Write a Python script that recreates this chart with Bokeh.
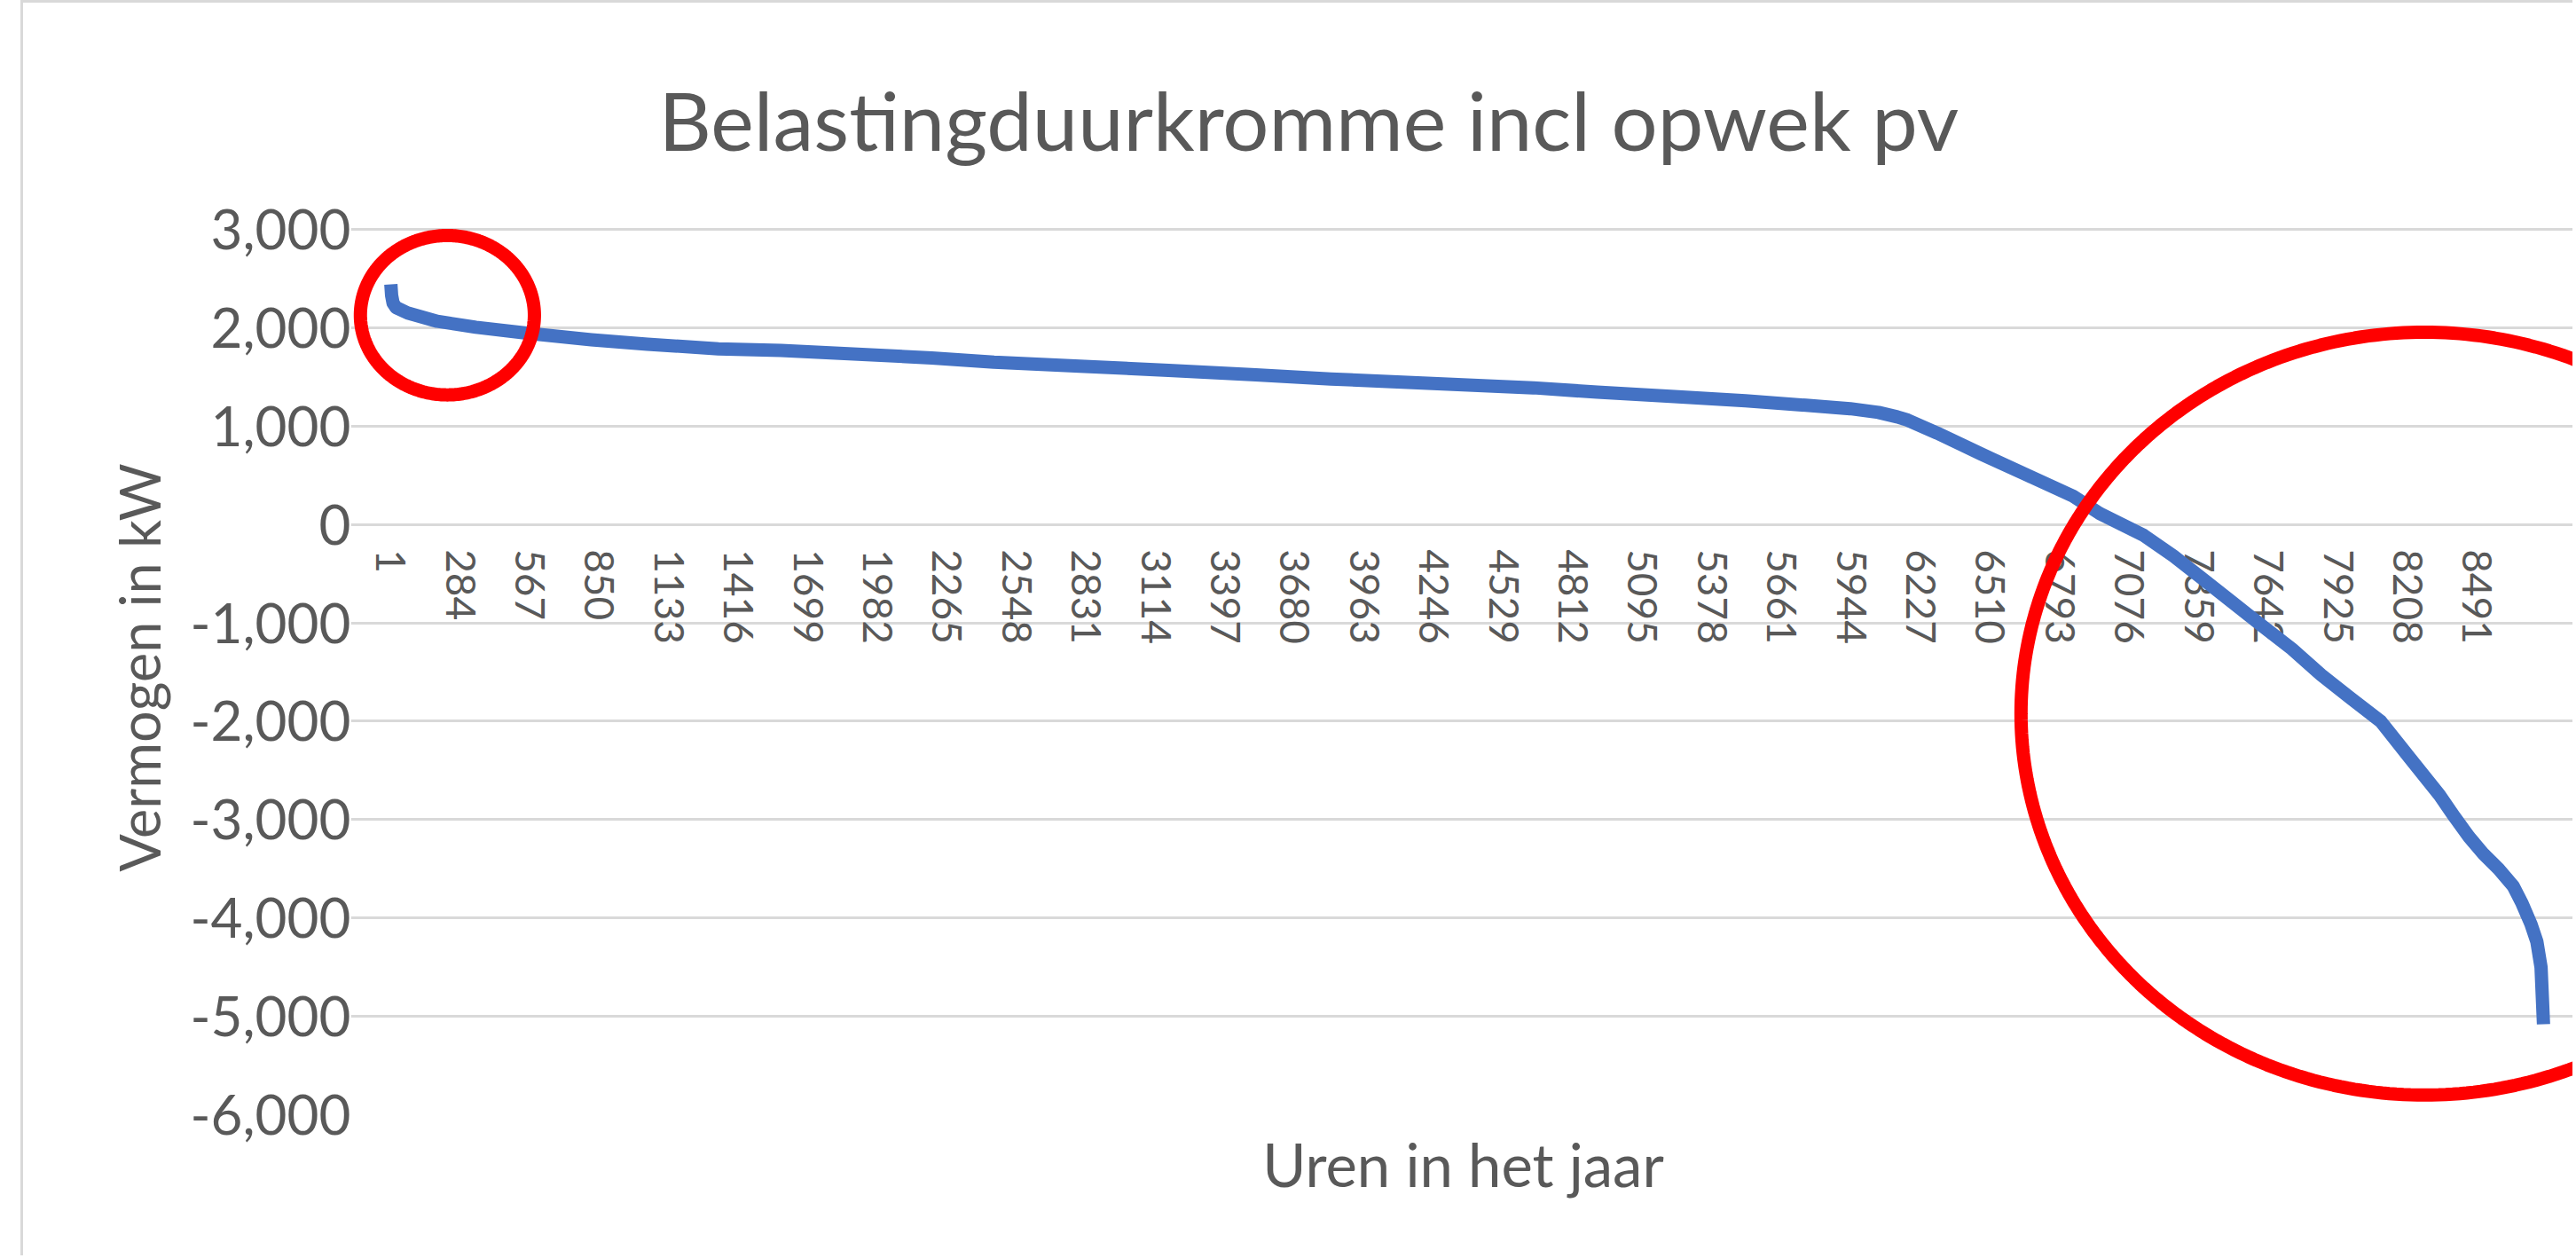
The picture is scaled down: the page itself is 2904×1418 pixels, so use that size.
import numpy as np
from bokeh.plotting import figure
from bokeh.models import (Range1d, FixedTicker, NumeralTickFormatter, Title,
                          PolyAnnotation, InlineStyleSheet)
from bokeh.embed import file_html
from bokeh.resources import INLINE

# ---------------- data ----------------
hours = [1, 4, 10, 22, 69, 190, 347, 553, 817, 1045, 1334, 1588, 2202, 2455,
         2804, 3166, 3520, 3826, 4240, 4650, 4910, 5224, 5513, 5758, 5939,
         6054, 6130, 6173, 6292, 6473, 6653, 6846, 6954, 7134, 7254, 7375,
         7495, 7615, 7736, 7856, 7976, 8097, 8217, 8337, 8397, 8457, 8517,
         8577, 8637, 8673, 8709, 8733, 8750, 8760]
load_kw = [2440, 2330, 2250, 2205, 2150, 2065, 2005, 1945, 1878, 1832, 1785,
           1770, 1693, 1649, 1610, 1566, 1522, 1478, 1434, 1389, 1345, 1301,
           1257, 1212, 1177, 1139, 1094, 1061, 930, 715, 509, 288, 112, -112,
           -320, -556, -793, -1030, -1265, -1531, -1767, -2000, -2377, -2751,
           -2969, -3176, -3353, -3500, -3676, -3853, -4062, -4240, -4500, -5080]

x_tick_hours = [1, 284, 567, 850, 1133, 1416, 1699, 1982, 2265, 2548, 2831,
                3114, 3397, 3680, 3963, 4246, 4529, 4812, 5095, 5378, 5661,
                5944, 6227, 6510, 6793, 7076, 7359, 7642, 7925, 8208, 8491]
y_ticks = [-6000, -5000, -4000, -3000, -2000, -1000, 0, 1000, 2000, 3000]

title_text = "Belastingduurkromme incl opwek pv"
x_title = "Uren in het jaar"
y_title = "Vermogen in kW"

# red highlight rings: (centre hour, centre kW, half width hours, half height kW)
small_ring = (231, 2127, 354, 810)
big_ring = (8276, -1923, 1642, 3877)

# ---------------- layout (page pixels; the page body has no margin) ----------------
N_HOURS = 8760
SHIFT_X, SHIFT_Y = 23, 0                # css shift of the plot element
BORDER = 3
CANVAS_X0, CANVAS_Y0 = SHIFT_X + BORDER, SHIFT_Y + BORDER
W, H = 2877, 1415
DATA_L, DATA_R = 440, 2867              # pixel span of hours 0.5 .. 8760.5
FRAME_L, FRAME_R = 395, CANVAS_X0 + W   # frame a bit wider so rings are not clipped
FRAME_T, FRAME_B = 248, 1256            # y = 3000 at 258, y = -6000 at 1256
Y_TOP_PX = 258

hpp = N_HOURS / (DATA_R - DATA_L)       # hours per pixel
kpp = 9000 / (FRAME_B - Y_TOP_PX)       # kW per pixel
x_start = 0.5 - (DATA_L - FRAME_L) * hpp
x_end = 0.5 + (FRAME_R - DATA_L) * hpp
y_end = 3000 + (Y_TOP_PX - FRAME_T) * kpp

FONT = "Lato"
GREY_TXT = "#595959"
GRID = "#d9d9d9"

p = figure(width=W, height=H, output_backend="svg", toolbar_location=None,
           title=None,
           x_range=Range1d(x_start, x_end), y_range=Range1d(-6000, y_end),
           min_border_left=FRAME_L - CANVAS_X0, min_border_right=CANVAS_X0 + W - FRAME_R,
           min_border_top=FRAME_T - CANVAS_Y0,
           min_border_bottom=CANVAS_Y0 + H - FRAME_B)
p.stylesheets = [InlineStyleSheet(css=(
    ":host { transform: translate(%dpx, %dpx); "
    "border-left: %dpx solid #d9d9d9; border-top: %dpx solid #d9d9d9; }"
    % (SHIFT_X, SHIFT_Y, BORDER, BORDER)))]
p.outline_line_color = None
p.background_fill_color = "white"
p.border_fill_color = "white"

p.add_layout(Title(text=title_text, align="left", offset=347, standoff=118,
                   text_font=FONT, text_font_size="92px", text_font_style="normal",
                   text_color=GREY_TXT), "above")
p.add_layout(Title(text=x_title, align="center", standoff=26,
                   text_font=FONT, text_font_size="67px", text_font_style="normal",
                   text_color=GREY_TXT), "below")

# y axis
p.yaxis.ticker = FixedTicker(ticks=y_ticks)
p.yaxis.formatter = NumeralTickFormatter(format="0,0")
p.yaxis.axis_label = y_title
p.yaxis.axis_label_text_font = FONT
p.yaxis.axis_label_text_font_size = "63px"
p.yaxis.axis_label_text_font_style = "normal"
p.yaxis.axis_label_text_color = GREY_TXT
p.yaxis.axis_label_standoff = 18
p.yaxis.major_label_text_font = FONT
p.yaxis.major_label_text_font_size = "62px"
p.yaxis.major_label_text_color = GREY_TXT
p.yaxis.major_label_standoff = 0
p.yaxis.major_tick_out = 0
p.yaxis.major_tick_in = 0
p.yaxis.axis_line_color = None
p.yaxis.major_tick_line_color = None
p.yaxis.minor_tick_line_color = None

# x axis drawn at y = 0
p.xaxis.fixed_location = 0
p.xaxis.bounds = (0.5, N_HOURS + 0.5)
p.xaxis.ticker = FixedTicker(ticks=x_tick_hours)
p.xaxis.major_label_overrides = {h: str(h) for h in x_tick_hours}
p.xaxis.major_label_orientation = "vertical"
p.xaxis.major_label_text_font = FONT
p.xaxis.major_label_text_font_size = "46px"
p.xaxis.major_label_text_color = GREY_TXT
p.xaxis.major_label_standoff = 28
p.xaxis.major_tick_out = 0
p.xaxis.major_tick_in = 0
p.xaxis.axis_line_color = GRID
p.xaxis.axis_line_width = 3
p.xaxis.major_tick_line_color = None
p.xaxis.minor_tick_line_color = None

p.xgrid.visible = False
p.ygrid.bounds = (0.5, N_HOURS + 0.5)
p.ygrid.grid_line_color = GRID
p.ygrid.grid_line_width = 3

p.line(hours, load_kw, line_color="#4472C4", line_width=15,
       line_join="round", line_cap="butt", level="annotation")

t = np.linspace(0, 2 * np.pi, 361)
for cx, cy, rx, ry in (small_ring, big_ring):
    ring = PolyAnnotation(xs=list(cx + rx * np.cos(t)), ys=list(cy + ry * np.sin(t)),
                          fill_color=None, fill_alpha=0, line_color="#ff0000",
                          line_alpha=1.0, line_width=15, level="overlay")
    p.add_layout(ring)

open("out.html", "w").write(file_html(p, INLINE))
